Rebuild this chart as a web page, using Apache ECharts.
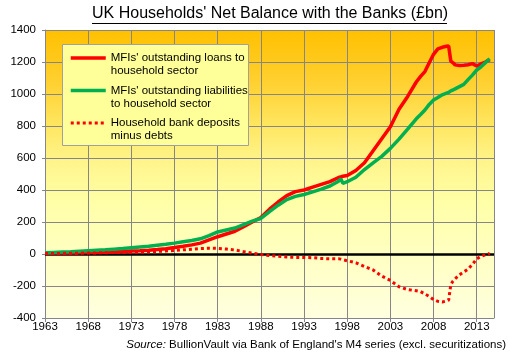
<!DOCTYPE html>
<html><head><meta charset="utf-8">
<script src="https://cdn.jsdelivr.net/npm/echarts@6/dist/echarts.min.js"></script>
<style>html,body{margin:0;padding:0;background:#fff}#c{width:510px;height:358px}</style>
</head><body><div id="c"></div>
<script>
// ---- data (values in £bn) ----
const BASE_YEAR = 1963;
const years = [1963,1964,1965,1966,1967,1968,1969,1970,1971,1972,1973,1974,1975,1976,1977,1978,1979,1980,1981,1982,1983,1984,1985,1986,1987,1988,1989,1990,1991,1992,1993,1994,1995,1996,
  1997,1997.25,1997.5,1998,1999,2000,2001,2002,2003,2004,2005,2006,2006.5,2007,2007.5,2008,2008.5,2009,2009.5,2009.75,2010,2010.25,2010.5,2011,2011.5,2012,2012.5,2013,2013.5,2014,2014.5];
const loans = [5,6,7,7,8,9,10,11,13,16,19,21,24,28,33,40,48,57,68,88,108,125,142,170,200,228,280,325,365,390,400,418,435,452,
  478,482,486,490,522,570,645,720,795,905,985,1075,1110,1140,1195,1248,1282,1292,1298,1300,1205,1195,1182,1178,1180,1183,1190,1175,1188,1200,1215];
const liabilities = [8,10,12,14,17,20,23,26,30,34,39,44,49,55,61,68,77,84,95,115,138,150,162,184,205,222,265,305,340,360,372,388,405,425,
  455,470,442,452,480,528,570,610,660,718,780,845,872,900,935,962,978,995,1005,1010,1020,1025,1032,1046,1060,1090,1118,1150,1170,1195,1220];
const netBalance = [3,3,4,4,5,6,7,8,9,10,11,12,14,16,19,22,26,30,34,36,35,31,25,15,5,-3,-10,-14,-19,-21,-22,-23,-28,-30,
  -30,-32,-36,-42,-55,-78,-100,-138,-165,-205,-222,-230,-235,-250,-265,-285,-296,-300,-294,-288,-190,-170,-155,-130,-112,-95,-65,-30,-15,-5,3];
const seriesNames = ["MFIs' outstanding loans to\nhousehold sector", "MFIs' outstanding liabilities\nto household sector", "Household bank deposits\nminus debts"];
const titleText = "UK Households' Net Balance with the Banks (£bn)";
const sourceText = "{i|Source:} BullionVault via Bank of England's M4 series (excl. securitizations)";

// ---- chart ----
const FONT = '"Liberation Sans", Arial, sans-serif';
const toPts = arr => years.map((y, i) => [y - BASE_YEAR, arr[i]]);
const chart = echarts.init(document.getElementById('c'), null, {renderer: 'canvas'});
const gridColor = '#868686';
chart.setOption({
  animation: false,
  backgroundColor: '#ffffff',
  textStyle: {fontFamily: FONT},
  title: [
    {text: titleText, left: 92, top: 6, padding: 0,
     textStyle: {fontSize: 16, fontWeight: 'normal', color: '#000', fontFamily: FONT}},
    {text: sourceText, right: 4, top: 339, padding: 0,
     textStyle: {fontSize: 11.5, fontWeight: 'normal', color: '#000', fontFamily: FONT,
       rich: {i: {fontStyle: 'italic', fontSize: 11.5, color: '#000', fontFamily: FONT}}}}
  ],
  grid: {left: 45, right: 16, top: 30, bottom: 40, show: true, borderWidth: 0,
    backgroundColor: {type: 'linear', x: 0, y: 0, x2: 0, y2: 1, colorStops: [
      {offset: 0, color: '#FFC000'}, {offset: 0.18, color: '#FFD030'}, {offset: 0.33, color: '#FFE660'},
      {offset: 0.45, color: '#FFF48A'}, {offset: 0.6, color: '#FFFFA8'}, {offset: 0.8, color: '#FFFFC4'},
      {offset: 1, color: '#FFFFE0'}]}},
  xAxis: {type: 'value', min: 0, max: 52, interval: 5,
    axisLine: {show: true, onZero: false, lineStyle: {color: gridColor}},
    axisTick: {show: true, length: 4, lineStyle: {color: gridColor}},
    axisLabel: {color: '#000', fontSize: 11.5, margin: 3, fontFamily: FONT, showMaxLabel: false,
      formatter: v => (v % 5 === 0 ? String(v + BASE_YEAR) : '')},
    splitLine: {show: true, lineStyle: {color: gridColor, width: 1}}},
  yAxis: {type: 'value', min: -400, max: 1400, interval: 200,
    axisLine: {show: true, lineStyle: {color: gridColor}},
    axisTick: {show: true, length: 3, lineStyle: {color: gridColor}},
    axisLabel: {color: '#000', fontSize: 11.5, margin: 9, fontFamily: FONT, formatter: v => String(v)},
    splitLine: {show: true, lineStyle: {color: gridColor, width: 1}}},
  legend: {orient: 'vertical', left: 69, top: 38, padding: 0, itemGap: -7.4,
    itemWidth: 35, itemHeight: 14, z: 5,
    itemStyle: {opacity: 0},
    formatter: n => '\n' + n,
    textStyle: {fontSize: 11.5, lineHeight: 13.3, color: '#000', fontFamily: FONT},
    data: [
      {name: seriesNames[0], lineStyle: {color: '#FF0000', width: 3.5, type: 'solid'}},
      {name: seriesNames[1], lineStyle: {color: '#00B050', width: 3.5, type: 'solid'}},
      {name: seriesNames[2], lineStyle: {color: '#FF0000', width: 3, type: [3, 3]}}
    ]},
  graphic: [
    {type: 'line', silent: true, z: 10, shape: {x1: 92, y1: 23.5, x2: 447, y2: 23.5}, style: {stroke: '#000', lineWidth: 1}},
    {type: 'rect', silent: true, z: 3, shape: {x: 62.5, y: 44.5, width: 186, height: 101}, style: {fill: '#FFFF99', stroke: '#A0A0A0', lineWidth: 1}}
  ],
  series: [
    {name: seriesNames[0], type: 'line', data: toPts(loans), symbol: 'none', z: 2,
     lineStyle: {color: '#FF0000', width: 3.5}, itemStyle: {color: '#FF0000'}},
    {name: seriesNames[1], type: 'line', data: toPts(liabilities), symbol: 'none', z: 2,
     lineStyle: {color: '#00B050', width: 3.5}, itemStyle: {color: '#00B050'}},
    {name: seriesNames[2], type: 'line', data: toPts(netBalance), symbol: 'none', z: 2,
     lineStyle: {color: '#FF0000', width: 3, type: [3, 3]}, itemStyle: {color: '#FF0000'},
     markLine: {silent: true, z: 1, symbol: 'none', label: {show: false},
       lineStyle: {color: '#000', width: 2.5, type: 'solid'}, data: [{yAxis: 0}]}}
  ]
});
</script></body></html>
